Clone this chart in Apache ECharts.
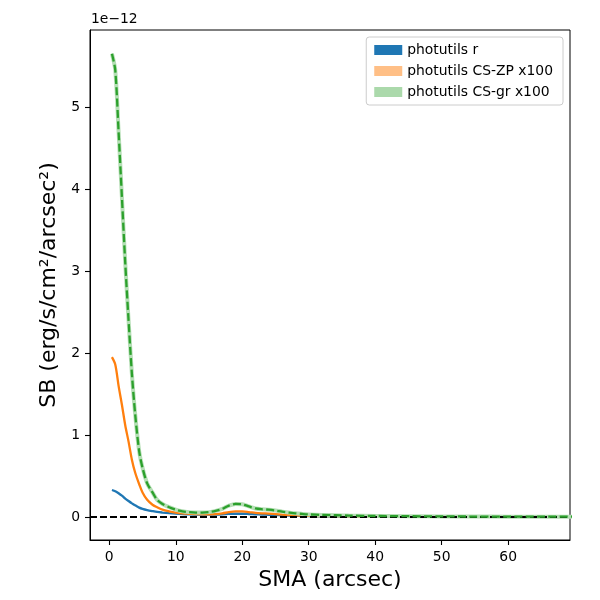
<!DOCTYPE html>
<html>
<head>
<meta charset="utf-8">
<script src="https://cdn.jsdelivr.net/npm/echarts@6/dist/echarts.min.js"></script>
<style>
  html, body { margin: 0; padding: 0; background: #fff; }
  #main { width: 600px; height: 600px; }
</style>
</head>
<body>
<div id="main"></div>
<script>
// SMA samples (arcsec)
const sma = [0.4, 0.9, 1.4, 1.9, 2.4, 2.9, 3.4, 3.9, 4.5, 5, 5.7, 6.5, 7.2, 8, 9, 10,
  11, 12, 13, 14, 15, 16, 17, 18, 19, 20, 21, 22, 23, 24, 25, 26, 27, 28, 29, 30,
  32, 34, 36, 40, 45, 50, 55, 60, 65, 70];

// surface brightness, units of 1e-12 erg/s/cm^2/arcsec^2
const sbR = [0.33, 0.315, 0.29, 0.26, 0.225, 0.195, 0.167, 0.143, 0.115, 0.1, 0.085, 0.072, 0.062, 0.055, 0.048, 0.042,
  0.037, 0.033, 0.031, 0.03, 0.03, 0.031, 0.034, 0.038, 0.04, 0.04, 0.037, 0.033, 0.03, 0.028, 0.025, 0.021, 0.018, 0.015, 0.013, 0.011,
  0.009, 0.007, 0.006, 0.004, 0.003, 0.002, 0.002, 0.001, 0.001, 0.001];
const sbZP = [1.95, 1.86, 1.6, 1.37, 1.12, 0.92, 0.7, 0.54, 0.4, 0.3, 0.21, 0.15, 0.12, 0.09, 0.07, 0.055,
  0.045, 0.04, 0.035, 0.033, 0.033, 0.036, 0.045, 0.06, 0.068, 0.068, 0.06, 0.05, 0.045, 0.042, 0.036, 0.03, 0.025, 0.02, 0.017, 0.014,
  0.012, 0.01, 0.008, 0.006, 0.005, 0.004, 0.003, 0.003, 0.002, 0.002];
const sbGR = [5.65, 5.45, 4.7, 3.9, 3.1, 2.4, 1.75, 1.25, 0.8, 0.6, 0.41, 0.3, 0.21, 0.16, 0.12, 0.09,
  0.07, 0.06, 0.055, 0.055, 0.06, 0.075, 0.1, 0.14, 0.16, 0.155, 0.13, 0.105, 0.095, 0.09, 0.08, 0.066, 0.055, 0.045, 0.038, 0.032,
  0.026, 0.022, 0.018, 0.013, 0.01, 0.008, 0.006, 0.005, 0.004, 0.004];

const xTicks = [0, 10, 20, 30, 40, 50, 60];
const yTicks = [0, 1, 2, 3, 4, 5];

const names = ['photutils r', 'photutils CS-ZP x100', 'photutils CS-gr x100'];

const pairs = ys => sma.map((x, i) => [x, ys[i]]);

const chart = echarts.init(document.getElementById('main'));
const font = 'DejaVu Sans';

function makeAxis(extra, ticks) {
  return Object.assign({
    type: 'value',
    splitLine: { show: false },
    axisLine: { show: true, onZero: false, lineStyle: { color: '#000', width: 1 } },
    axisTick: { show: true, inside: false, length: 5, customValues: ticks, lineStyle: { color: '#000', width: 1.1 } },
    axisLabel: { color: '#000', fontSize: 13.9, fontFamily: font, margin: 10, customValues: ticks },
    nameLocation: 'middle',
    nameTextStyle: { color: '#000', fontSize: 22, fontFamily: font }
  }, extra);
}

const lineBase = {
  type: 'line',
  showSymbol: false,
  symbol: 'none',
  smooth: 0.3,
  animation: false
};

chart.setOption({
  backgroundColor: '#fff',
  animation: false,
  grid: { left: 90, right: 30, top: 30, bottom: 60, show: true, borderColor: '#000', borderWidth: 1 },
  xAxis: makeAxis({ min: -2.9, max: 69.3, name: 'SMA (arcsec)', nameGap: 26 }, xTicks),
  yAxis: makeAxis({ min: -0.28, max: 5.94, name: 'SB (erg/s/cm²/arcsec²)', nameGap: 22 }, yTicks),
  legend: {
    orient: 'vertical',
    right: 37, top: 37,
    padding: [6, 10, 6, 8],
    itemWidth: 28, itemHeight: 10, itemGap: 7,
    borderColor: '#cccccc', borderWidth: 1, borderRadius: 3,
    backgroundColor: 'rgba(255,255,255,0.8)',
    textStyle: { color: '#000', fontSize: 13.9, fontFamily: font },
    data: [
      { name: names[0], icon: 'rect', itemStyle: { color: '#1f77b4' } },
      { name: names[1], icon: 'rect', itemStyle: { color: '#ffbf86' } },
      { name: names[2], icon: 'rect', itemStyle: { color: '#abd9ab' } }
    ]
  },
  graphic: [{
    type: 'text', left: 91, top: 12,
    style: { text: '1e\u221212', fill: '#000', font: '13.9px "DejaVu Sans"' }
  }],
  series: [
    Object.assign({}, lineBase, {
      name: names[0], data: pairs(sbR), z: 2,
      itemStyle: { color: '#1f77b4' },
      lineStyle: { color: '#1f77b4', width: 2.3 },
      markLine: {
        silent: true, symbol: 'none', label: { show: false },
        lineStyle: { color: '#000', type: [7, 3], width: 1.8 },
        data: [{ yAxis: 0 }]
      }
    }),
    Object.assign({}, lineBase, {
      name: names[1], data: pairs(sbZP), z: 3,
      itemStyle: { color: '#ff7f0e' },
      lineStyle: { color: '#ff7f0e', width: 2.3 }
    }),
    Object.assign({}, lineBase, {
      name: 'gr band', data: pairs(sbGR), z: 4,
      legendHoverLink: false,
      lineStyle: { color: '#b5deb5', width: 4 }
    }),
    Object.assign({}, lineBase, {
      name: names[2], data: pairs(sbGR), z: 5,
      itemStyle: { color: '#2ca02c' },
      lineStyle: { color: '#2ca02c', width: 2.3, type: [8, 3.3] }
    })
  ]
});
</script>
</body>
</html>
